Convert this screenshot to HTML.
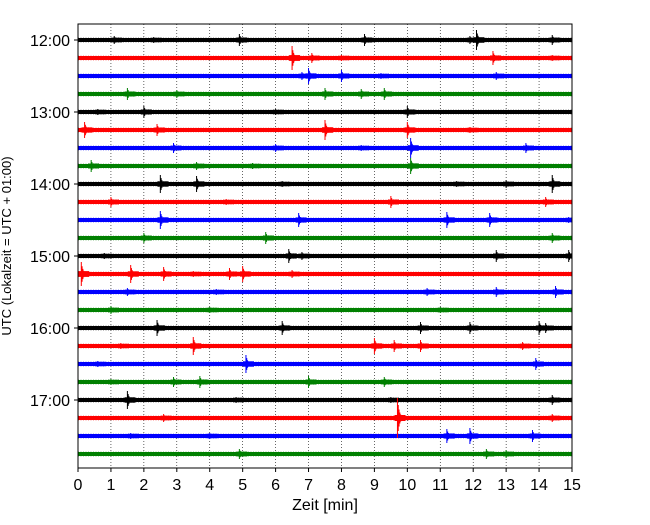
<!DOCTYPE html>
<html><head><meta charset="utf-8"><style>
body{margin:0;background:#fff}
svg text{font-family:"Liberation Sans",sans-serif;fill:#000}
</style></head><body>
<svg id="chart" width="650" height="520" viewBox="0 0 650 520">
<defs><clipPath id="pc"><rect x="78" y="24" width="494" height="444"/></clipPath></defs>
<g id="grid"></g>
<g id="traces" clip-path="url(#pc)"></g>
<rect x="78" y="24" width="494" height="444" fill="none" stroke="#000" stroke-width="1"/>
<g id="axes"></g>
<text x="325" y="510" font-size="16" text-anchor="middle">Zeit  [min]</text>
<text transform="translate(11,246) rotate(-90)" font-size="13" text-anchor="middle">UTC (Lokalzeit = UTC + 01:00)</text>
</svg>
<script>
const xTicks=[0,1,2,3,4,5,6,7,8,9,10,11,12,13,14,15];
const hourLabels=["12:00","13:00","14:00","15:00","16:00","17:00"];
const traceColors=["#000","red","blue","green"];
const traceCount=24;
// events: [trace, minute, amplitude px]
const events=[
[0,1.1,4],[0,2.3,3],[0,4.9,6],[0,8.7,6],[0,11.9,4],[0,12.1,10],[0,14.4,5],
[1,6.5,12],[1,7.1,5],[1,8.0,3],[1,12.6,7],[1,14.4,3],
[2,6.8,4],[2,7.0,8],[2,8.0,6],[2,9.2,3],[2,12.7,4],
[3,1.5,6],[3,3.0,4],[3,7.5,6],[3,8.6,5],[3,9.3,6],
[4,0.6,3],[4,2.0,6],[4,6.0,3],[4,10.0,6],
[5,0.2,8],[5,2.4,6],[5,7.5,10],[5,10.0,8],[5,11.9,3],
[6,2.9,5],[6,6.0,4],[6,8.6,3],[6,10.1,10],[6,13.6,5],
[7,0.4,6],[7,3.6,4],[7,5.3,3],[7,10.1,8],
[8,2.5,9],[8,3.6,8],[8,6.2,3],[8,11.5,3],[8,13.0,4],[8,14.4,9],
[9,1.0,5],[9,4.5,3],[9,9.5,6],[9,14.2,5],
[10,2.5,9],[10,6.7,7],[10,11.2,8],[10,12.5,7],[10,14.9,3],
[11,2.0,5],[11,5.7,6],[11,14.4,5],
[12,0.8,3],[12,6.4,7],[12,6.8,4],[12,12.7,6],[12,14.9,6],
[13,0.1,12],[13,1.6,9],[13,2.6,7],[13,3.5,3],[13,4.6,6],[13,5.0,8],[13,6.5,4],
[14,1.5,4],[14,4.2,3],[14,10.6,4],[14,12.7,5],[14,14.5,6],
[15,1.0,4],[15,4.0,3],[15,11.0,3],
[16,2.4,8],[16,6.2,7],[16,10.4,6],[16,11.9,6],[16,14.0,7],[16,14.2,5],
[17,1.3,3],[17,3.5,9],[17,9.0,8],[17,9.6,6],[17,10.4,6],[17,13.5,4],
[18,0.6,3],[18,5.1,9],[18,13.9,6],
[19,1.0,3],[19,2.9,5],[19,3.7,6],[19,7.0,6],[19,9.3,5],
[20,1.5,9],[20,4.8,3],[20,9.5,3],[20,14.4,5],
[21,2.6,4],[21,9.7,20],[21,14.4,4],
[22,1.6,3],[22,4.0,3],[22,11.2,7],[22,11.9,8],[22,13.8,6],
[23,4.9,5],[23,12.4,5],[23,13.0,4]
];
const NS="http://www.w3.org/2000/svg";
const X=m=>78+m*(494/15);
const Y=i=>40+i*18;
const grid=document.getElementById('grid'),axes=document.getElementById('axes'),tr=document.getElementById('traces');
function mk(tag,attrs,parent){const e=document.createElementNS(NS,tag);for(const k in attrs)e.setAttribute(k,attrs[k]);parent.appendChild(e);return e;}
xTicks.forEach(t=>{
  const g=mk('line',{x1:X(t),x2:X(t),y1:24,y2:468,stroke:'#000','stroke-width':0.6,'stroke-dasharray':'1,2'},grid);
  
  
  const tk=mk('line',{x1:X(t),x2:X(t),y1:468,y2:472,stroke:'#000'},axes);
  
  
  const tx=mk('text',{x:X(t),y:490,'font-size':16,'text-anchor':'middle'},axes);
  tx.textContent=t;
  
  
});
hourLabels.forEach((h,k)=>{
  const y=Y(k*4);
  const tk=mk('line',{x1:74,x2:78,y1:y,y2:y,stroke:'#000'},axes);
  
  
  const tx=mk('text',{x:70,y:y+6,'font-size':16,'text-anchor':'end'},axes);
  tx.textContent=h;
  
  
});
for(let i=0;i<traceCount;i++){
  const c=traceColors[i%4];
  const l=mk('line',{x1:78,x2:572,y1:Y(i),y2:Y(i),stroke:c,'stroke-width':4},tr);
  
  
  const f=mk('line',{x1:78,x2:572,y1:Y(i),y2:Y(i),stroke:c,'stroke-width':6,'stroke-opacity':0.25,'stroke-dasharray':'1,1.5'},tr);
  
  
}
events.forEach(([i,m,a])=>{
  const c=traceColors[i%4];
  const x0=X(m),y0=Y(i);
  let d='';
  for(let k=0;k<7;k++){const amp=a*Math.pow(0.65,k);const x=x0+k*0.8;d+=`M${x},${y0-amp}L${x},${y0+amp}`;}
  const p=mk('path',{d:d,stroke:c,'stroke-width':1,fill:'none'},tr);
  
  
  const b=mk('line',{x1:x0-3,x2:x0+8,y1:y0,y2:y0,stroke:c,'stroke-width':Math.min(6,4+a*0.15)},tr);
  
  
});
</script>
</body></html>
